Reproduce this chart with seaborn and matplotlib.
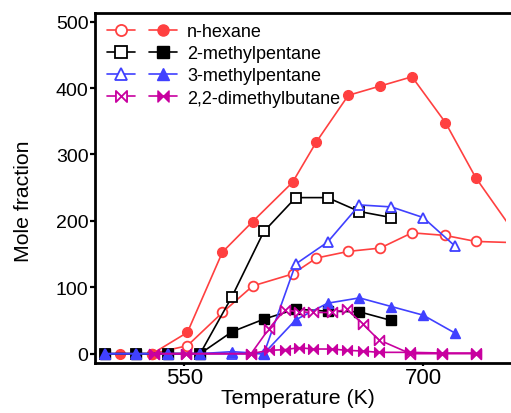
import seaborn as sns
import matplotlib.pyplot as plt
from matplotlib.path import Path
from matplotlib.lines import Line2D
from matplotlib.legend_handler import HandlerTuple

# values
names = ["n-hexane", "2-methylpentane", "3-methylpentane", "2,2-dimethylbutane"]

hex_T_open = [530, 552, 574, 593, 618, 633, 653, 673, 693, 714, 733, 760]
hex_open = [0, 12, 62, 102, 120, 144, 154, 159, 182, 178, 169, 167]
hex_T_fill = [510, 530, 552, 574, 593, 618, 633, 653, 673, 693, 714, 733, 760]
hex_fill = [0, 0, 32, 153, 199, 258, 319, 389, 403, 417, 348, 265, 173]

mp2_T = [500, 520, 540, 560, 580, 600, 620, 640, 660, 680]
mp2_open = [0, 0, 0, 0, 86, 184, 235, 235, 214, 205]
mp2_fill = [0, 0, 0, 0, 33, 52, 67, 64, 63, 50]

mp3_T = [500, 520, 540, 560, 580, 600, 620, 640, 660, 680, 700, 720]
mp3_open = [0, 0, 0, 0, 0, 0, 135, 168, 224, 221, 205, 162]
mp3_fill = [0, 0, 0, 0, 3, 0, 51, 76, 84, 71, 58, 31]

dmb_T = [531, 551, 592, 603, 613, 622, 631, 643, 652, 662, 672, 692, 712, 733]
dmb_open = [0, 0, 0, 37, 66, 63, 62, 62, 67, 45, 21, 0, 0, 0]
dmb_fill = [0, 0, 0, 5, 6, 9, 7, 7, 5, 4, 2, 2, 1, 1]

sns.set_style("ticks")
plt.rcParams['font.family'] = ['Liberation Sans', 'DejaVu Sans']
plt.rcParams['text.color'] = 'black'
plt.rcParams['axes.labelcolor'] = 'black'
plt.rcParams['xtick.color'] = 'black'
plt.rcParams['ytick.color'] = 'black'
plt.rcParams['axes.edgecolor'] = 'black'

bowtie = Path([(-1, -1), (-1, 1), (0, 0), (1, 1), (1, -1), (0, 0), (-1, -1)], closed=True)

series = [
    ("#FF4040", "o", "o", hex_T_open, hex_open, hex_T_fill, hex_fill),
    ("black", "s", "s", mp2_T, mp2_open, mp2_T, mp2_fill),
    ("#4040FF", "^", "^", mp3_T, mp3_open, mp3_T, mp3_fill),
    ("#C8009F", bowtie, bowtie, dmb_T, dmb_open, dmb_T, dmb_fill),
]

ms = 7
lw = 1.2

fig = plt.figure(figsize=(5.11, 4.14), dpi=100)
ax = fig.add_axes([95 / 511, 49.7 / 414, 411 / 511, 350.3 / 414])

handles = []
for c, mo, mf, t_o, v_o, t_f, v_f in series:
    sns.lineplot(x=t_o, y=v_o, ax=ax, color=c, marker=mo, markersize=ms,
                 markerfacecolor="white", markeredgecolor=c, markeredgewidth=1.3,
                 lw=lw, sort=False)
    sns.lineplot(x=t_f, y=v_f, ax=ax, color=c, marker=mf, markersize=ms,
                 markerfacecolor=c, markeredgecolor=c, markeredgewidth=1.0,
                 lw=lw, sort=False)
    h1 = Line2D([], [], color=c, marker=mo, ms=8, mfc="white", mec=c, mew=1.3, lw=lw)
    h2 = Line2D([], [], color=c, marker=mf, ms=8, mfc=c, mec=c, mew=1.0, lw=lw)
    handles.append((h1, h2))

ax.set_xlim(494, 752)
ax.set_ylim(-14.5, 513)
ax.set_xticks([550, 700])
ax.set_yticks([0, 100, 200, 300, 400, 500])
ax.tick_params(direction="out", width=1.6)
ax.tick_params(axis="y", length=3.6, pad=1, labelsize=14)
ax.tick_params(axis="x", length=2.2, pad=0.5, labelsize=16)
for s in ["left", "bottom", "top"]:
    ax.spines[s].set_linewidth(2)
ax.spines["right"].set_visible(False)
ax.spines["bottom"].set_bounds(494, 760)
ax.spines["top"].set_bounds(494, 760)

ax.set_xlabel("Temperature (K)", fontsize=15.3)
ax.set_ylabel("Mole fraction", fontsize=15.3)
ax.xaxis.set_label_coords(0.494, -0.071)
ax.yaxis.set_label_coords(-0.151, 0.466)

fig.legend(handles, names, handler_map={tuple: HandlerTuple(ndivide=None, pad=0.75)},
           loc="upper left", bbox_to_anchor=(106.7 / 511, 1 - 24 / 414),
           frameon=False, borderpad=0, borderaxespad=0, handlelength=3.9,
           handletextpad=0.55, labelspacing=0.29, fontsize=13)

fig.savefig("out.png", dpi=100)
